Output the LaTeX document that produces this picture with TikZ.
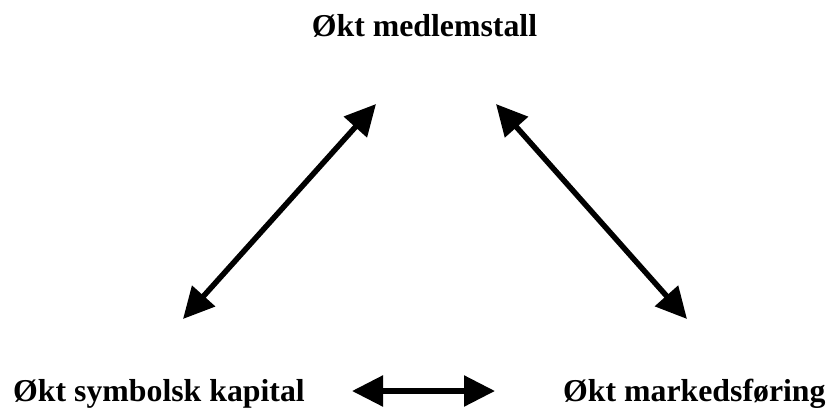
\documentclass[tikz,border=0pt]{standalone}
\usepackage{fontspec}
\setmainfont{Liberation Serif}
\usetikzlibrary{arrows.meta}

\tikzset{
  label text/.style={inner sep=0pt, font=\fontsize{31.8}{36}\selectfont\bfseries},
  link/.style={line width=5.5pt,
    {Triangle[length=31pt,width=30pt]}-{Triangle[length=31pt,width=30pt]}}
}

\begin{document}
\begin{tikzpicture}[x=1pt,y=-1pt]
  \useasboundingbox (0,0) rectangle (829,410);

  % the three statements
  \node[label text, anchor=base] (top) at (424.5,36) {Økt medlemstall};
  \node[label text, anchor=base west] (left) at (13,401) {Økt symbolsk kapital};
  \node[label text, anchor=base west] (right) at (563,401) {Økt markedsføring};

  % arrow end points
  \coordinate (tl) at (376,104);
  \coordinate (bl) at (183,319);
  \coordinate (tr) at (496,104);
  \coordinate (br) at (687,319);
  \coordinate (ml) at (352,391);
  \coordinate (mr) at (495,391);

  % mutual influences
  \draw[link] (bl) -- (tl);
  \draw[link] (tr) -- (br);
  \draw[link] (ml) -- (mr);
\end{tikzpicture}
\end{document}
